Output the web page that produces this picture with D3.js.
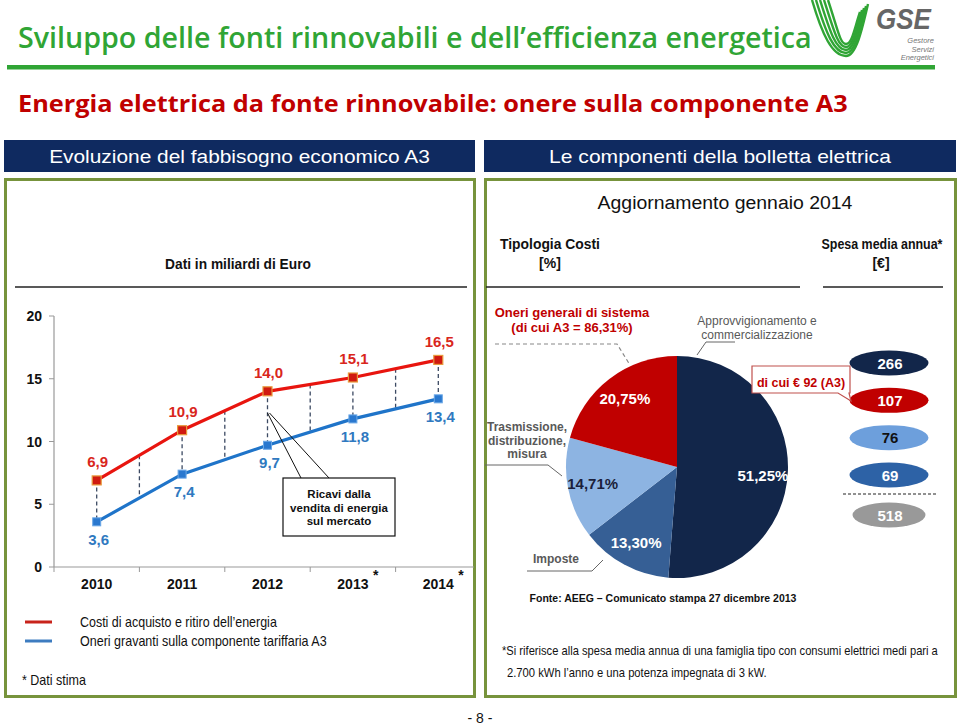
<!DOCTYPE html>
<html><head><meta charset="utf-8">
<script src="https://cdn.jsdelivr.net/npm/d3@7/dist/d3.min.js"></script>
<style>
html,body{margin:0;padding:0;background:#fff;}
svg{display:block;}
text{font-family:"Liberation Sans",Arial,sans-serif;}
.narrow{font-family:"Liberation Sans Narrow","Liberation Sans",Arial,sans-serif;}
</style></head>
<body>
<svg id="c" width="960" height="725"></svg>
<script>
// ---------- data ----------
const years = ["2010","2011","2012","2013","2014"];
const estimated = [false,false,false,true,true];
const costiAcquisto = [6.9,10.9,14.0,15.1,16.5];
const oneriA3 = [3.6,7.4,9.7,11.8,13.4];
const yTicks = [0,5,10,15,20];
const seriesNames = ["Costi di acquisto e ritiro dell’energia","Oneri gravanti sulla componente tariffaria A3"];

const pieCategories = ["Approvvigionamento e commercializzazione","Imposte","Trasmissione, distribuzione, misura","Oneri generali di sistema"];
const pieShares = [51.25,13.30,14.71,20.75];
const pieLabels = ["51,25%","13,30%","14,71%","20,75%"];
const spesaCategories = ["Approvvigionamento e commercializzazione","Oneri generali di sistema","Trasmissione, distribuzione, misura","Imposte","Totale"];
const spesaValues = [266,107,76,69,518];

const fmt = v => d3.format(".1f")(v).replace(".", ",");

const svg = d3.select("#c");

// horizontally condense a text to a target width (narrow fonts)
function fit(t, w){
  const n = t.node().getComputedTextLength();
  const s = w / n;
  const x = +t.attr("x"), y = +t.attr("y");
  t.attr("transform", `translate(${x},${y}) scale(${s},1) translate(${-x},${-y})`);
  return t;
}

// ---------- page header ----------
fit(svg.append("text").attr("x",18).attr("y",48).attr("fill","#30a535")
  .style("font-family","'Open Sans','Noto Sans',sans-serif").style("font-size","29.5px").style("font-weight","600")
  .text("Sviluppo delle fonti rinnovabili e dell’efficienza energetica"), 794);
svg.append("rect").attr("x",7).attr("y",65).attr("width",928).attr("height",4.5).attr("fill","#30a535");

// GSE logo
const logo = svg.append("g");
[0,1,2,3,4].forEach(i=>{
  logo.append("path")
    .attr("d",`M${812+i*4},0 C${822+i*4},${34-i*1} ${832+i*2},${56-i*3} ${846},${56-i*3} C${856-i*1},${56-i*3} ${862-i*2},${30} ${868-i*2},${4+i*2}`)
    .attr("fill","none").attr("stroke","#30a535").attr("stroke-width",2.4);
});
fit(logo.append("text").attr("x",876).attr("y",29).attr("fill","#666").style("font-size","30px")
  .style("font-weight","bold").style("font-style","italic").text("GSE"), 55);
["Gestore","Servizi","Energetici"].forEach((t,i)=>{
  logo.append("text").attr("x",934).attr("y",43+i*8.5).attr("text-anchor","end").attr("fill","#777").style("font-size","7.5px").style("font-style","italic").text(t);
});

fit(svg.append("text").attr("x",18).attr("y",112).attr("fill","#c00000")
  .style("font-family","'Open Sans','Noto Sans',sans-serif").style("font-size","24px").style("font-weight","700")
  .text("Energia elettrica da fonte rinnovabile: onere sulla componente A3"), 830);

// header bars
const bars = [{x:4,w:471,t:"Evoluzione del fabbisogno economico A3",tw:381},{x:484,w:472,t:"Le componenti della bolletta elettrica",tw:342}];
bars.forEach(b=>{
  svg.append("rect").attr("x",b.x).attr("y",140).attr("width",b.w).attr("height",32).attr("fill","#0f2a60");
  fit(svg.append("text").attr("class","narrow").attr("x",b.x+b.w/2).attr("y",163).attr("text-anchor","middle")
    .attr("fill","#fff").style("font-size","19px").text(b.t), b.tw);
  svg.append("rect").attr("x",b.x+1.5).attr("y",179.5).attr("width",b.w-2).attr("height",517)
    .attr("fill","none").attr("stroke","#77933c").attr("stroke-width",3);
});

// ---------- left panel: line chart ----------
fit(svg.append("text").attr("class","narrow").attr("x",238).attr("y",269).attr("text-anchor","middle")
  .style("font-size","14px").style("font-weight","bold").attr("fill","#111").text("Dati in miliardi di Euro"), 146);
svg.append("line").attr("x1",15).attr("x2",467).attr("y1",287).attr("y2",287).attr("stroke","#222").attr("stroke-width",1.5);

const x = d3.scaleBand().domain(years).range([54,481]);
const y = d3.scaleLinear().domain([0,20]).range([567,316]);
const cx = d => x(d)+x.bandwidth()/2;

const g = svg.append("g");
// y axis
g.append("line").attr("x1",54).attr("x2",54).attr("y1",y(20)).attr("y2",y(0)).attr("stroke","#999").attr("stroke-width",1.2);
yTicks.forEach(t=>{
  g.append("line").attr("x1",49).attr("x2",54).attr("y1",y(t)).attr("y2",y(t)).attr("stroke","#999");
  g.append("text").attr("x",42).attr("y",y(t)+5).attr("text-anchor","end").style("font-size","14px").style("font-weight","bold").attr("fill","#111").text(t);
});
// x axis
g.append("line").attr("x1",54).attr("x2",474).attr("y1",y(0)).attr("y2",y(0)).attr("stroke","#999").attr("stroke-width",1.2);
years.forEach((yr,i)=>{
  g.append("line").attr("x1",x(yr)).attr("x2",x(yr)).attr("y1",y(0)).attr("y2",y(0)+5).attr("stroke","#999");
  g.append("text").attr("x",cx(yr)).attr("y",589).attr("text-anchor","middle").style("font-size","14px").style("font-weight","bold").attr("fill","#111").text(yr);
  if(estimated[i]) g.append("text").attr("x",cx(yr)+20).attr("y",580).style("font-size","14px").style("font-weight","bold").attr("fill","#111").text("*");
});

// dashed connectors at categories and midpoints
const dashG = g.append("g").attr("stroke","#3c4a63").attr("stroke-width",1.3).attr("stroke-dasharray","4,3");
years.forEach((yr,i)=>{
  dashG.append("line").attr("x1",cx(yr)).attr("x2",cx(yr)).attr("y1",y(costiAcquisto[i])).attr("y2",y(oneriA3[i]));
  if(i<years.length-1){
    const mx=(cx(yr)+cx(years[i+1]))/2;
    const yr1=(y(costiAcquisto[i])+y(costiAcquisto[i+1]))/2;
    const yb1=(y(oneriA3[i])+y(oneriA3[i+1]))/2;
    dashG.append("line").attr("x1",mx).attr("x2",mx).attr("y1",yr1).attr("y2",yb1);
  }
});

const line = d3.line().x((d,i)=>cx(years[i])).y(d=>y(d));
g.append("path").datum(costiAcquisto).attr("d",line).attr("fill","none").attr("stroke","#e8150f").attr("stroke-width",3.2);
g.append("path").datum(oneriA3).attr("d",line).attr("fill","none").attr("stroke","#1f74c9").attr("stroke-width",3.2);

costiAcquisto.forEach((v,i)=>{
  g.append("rect").attr("x",cx(years[i])-4.5).attr("y",y(v)-4.5).attr("width",9).attr("height",9).attr("fill","#d01a10").attr("stroke","#e89a3c").attr("stroke-width",1.2);
  g.append("text").attr("x",cx(years[i])+1).attr("y",y(v)-13).attr("text-anchor","middle").style("font-size","15px").style("font-weight","bold").attr("fill","#d9261c").text(fmt(v));
});
oneriA3.forEach((v,i)=>{
  g.append("rect").attr("x",cx(years[i])-4).attr("y",y(v)-4).attr("width",8).attr("height",8).attr("fill","#2a78cf").attr("stroke","#6aa7e6").attr("stroke-width",1);
  g.append("text").attr("x",cx(years[i])+2).attr("y",y(v)+23).attr("text-anchor","middle").style("font-size","15px").style("font-weight","bold").attr("fill","#2f79c0").text(fmt(v));
});

// callout
const callX = cx("2012");
g.append("line").attr("x1",callX).attr("y1",413).attr("x2",301).attr("y2",478).attr("stroke","#111").attr("stroke-width",1);
g.append("line").attr("x1",callX+2).attr("y1",413).attr("x2",329).attr("y2",478).attr("stroke","#111").attr("stroke-width",1);
g.append("rect").attr("x",283).attr("y",478).attr("width",112).attr("height",58).attr("fill","#fff").attr("stroke","#111").attr("stroke-width",1.2);
["Ricavi dalla","vendita di energia","sul mercato"].forEach((t,i)=>{
  g.append("text").attr("x",339).attr("y",498+i*13.5).attr("text-anchor","middle").style("font-size","11.5px").style("font-weight","bold").attr("fill","#111").text(t);
});

// legend
const legColors = ["#c8231b","#3d7cc0"];
seriesNames.forEach((n,i)=>{
  svg.append("line").attr("x1",25).attr("x2",52).attr("y1",622+i*19).attr("y2",622+i*19).attr("stroke",legColors[i]).attr("stroke-width",3);
  fit(svg.append("text").attr("class","narrow").attr("x",80).attr("y",627+i*19).style("font-size","14px").attr("fill","#111").text(n), [197,247][i]);
});
fit(svg.append("text").attr("class","narrow").attr("x",22).attr("y",685).style("font-size","14px").attr("fill","#111").text("* Dati stima"), 64);

// ---------- right panel ----------
fit(svg.append("text").attr("class","narrow").attr("x",725).attr("y",209).attr("text-anchor","middle").style("font-size","19px").attr("fill","#111")
  .text("Aggiornamento gennaio 2014"), 255);
fit(svg.append("text").attr("class","narrow").attr("x",550).attr("y",249).attr("text-anchor","middle").style("font-size","14px").style("font-weight","bold").attr("fill","#111")
  .text("Tipologia Costi"), 100);
svg.append("text").attr("class","narrow").attr("x",550).attr("y",268).attr("text-anchor","middle").style("font-size","14px").style("font-weight","bold").attr("fill","#111").text("[%]");
fit(svg.append("text").attr("class","narrow").attr("x",882).attr("y",249).attr("text-anchor","middle").style("font-size","14px").style("font-weight","bold").attr("fill","#111")
  .text("Spesa media annua*"), 121);
svg.append("text").attr("class","narrow").attr("x",881).attr("y",268).attr("text-anchor","middle").style("font-size","14px").style("font-weight","bold").attr("fill","#111").text("[€]");
svg.append("line").attr("x1",486).attr("x2",800).attr("y1",287).attr("y2",287).attr("stroke","#222").attr("stroke-width",1.5);
svg.append("line").attr("x1",823).attr("x2",943).attr("y1",287).attr("y2",287).attr("stroke","#222").attr("stroke-width",1.5);

// pie
const pieColors = ["#12264a","#365f95","#8db4e2","#c00000"];
const pc = {x:677,y:467}, R=111;
const pie = d3.pie().sort(null).value(d=>d)(pieShares);
const arc = d3.arc().innerRadius(0).outerRadius(R);
const lblArc = d3.arc().innerRadius(86).outerRadius(86);
const pg = svg.append("g").attr("transform",`translate(${pc.x},${pc.y})`);
pg.selectAll("path").data(pie).join("path").attr("d",arc).attr("fill",(d,i)=>pieColors[i]);
const lblColors = ["#fff","#fff","#1b1f3a","#fff"];
const lblShift = [[0,6],[0,0],[0,0],[0,0]];
pg.selectAll("text").data(pie).join("text")
  .attr("x",(d,i)=>lblArc.centroid(d)[0]+lblShift[i][0])
  .attr("y",(d,i)=>lblArc.centroid(d)[1]+5+lblShift[i][1])
  .attr("text-anchor","middle").style("font-size","15px").style("font-weight","bold")
  .attr("fill",(d,i)=>lblColors[i]).text((d,i)=>pieLabels[i]);

// outer pie annotations
const ann = svg.append("g");
ann.append("text").attr("x",572).attr("y",317).attr("text-anchor","middle").style("font-size","13px").style("font-weight","bold").attr("fill","#c00000").text("Oneri generali di sistema");
ann.append("text").attr("x",572).attr("y",332).attr("text-anchor","middle").style("font-size","13px").style("font-weight","bold").attr("fill","#c00000").text("(di cui A3 = 86,31%)");
ann.append("path").attr("d","M495,344 L617,344 L630,365").attr("fill","none").attr("stroke","#888").attr("stroke-width",1.2).attr("stroke-dasharray","4,3");

ann.append("text").attr("x",757).attr("y",325).attr("text-anchor","middle").style("font-size","12px").attr("fill","#595959").text("Approvvigionamento e");
ann.append("text").attr("x",757).attr("y",339).attr("text-anchor","middle").style("font-size","12px").attr("fill","#595959").text("commercializzazione");
ann.append("path").attr("d","M697,355 L706,342 L735,342").attr("fill","none").attr("stroke","#666").attr("stroke-width",1);

["Trasmissione,","distribuzione,","misura"].forEach((t,i)=>{
  ann.append("text").attr("x",527).attr("y",431+i*13.5).attr("text-anchor","middle").style("font-size","12px").style("font-weight","bold").attr("fill","#595959").text(t);
});
ann.append("path").attr("d","M485,465 L548,465 L562,476").attr("fill","none").attr("stroke","#666").attr("stroke-width",1);

ann.append("text").attr("x",556).attr("y",563).attr("text-anchor","middle").style("font-size","12px").style("font-weight","bold").attr("fill","#595959").text("Imposte");
ann.append("path").attr("d","M527,571 L592,571 L603,560").attr("fill","none").attr("stroke","#666").attr("stroke-width",1);

// ellipses
const elColors = ["#12264a","#c00000","#6d9fdc","#2d62a6","#999999"];
const elText = ["#fff","#fff","#111","#fff","#fff"];
const ey = d3.scalePoint().domain(spesaCategories.slice(0,4)).range([363,475]);
const eg = svg.append("g");
spesaValues.forEach((v,i)=>{
  const cy = i<4 ? ey(spesaCategories[i]) : 515;
  eg.append("ellipse").attr("cx",889).attr("cy",cy).attr("rx",i<4?39.5:36.5).attr("ry",12.5).attr("fill",elColors[i]);
  eg.append("text").attr("x",890).attr("y",cy+5.5).attr("text-anchor","middle").style("font-size","15px").style("font-weight","bold").attr("fill",elText[i]).text(v);
});
eg.append("line").attr("x1",843).attr("x2",937).attr("y1",494).attr("y2",494).attr("stroke","#222").attr("stroke-width",1).attr("stroke-dasharray","3,2");

// "di cui" callout
eg.append("path").attr("d","M752,366 L850,366 L850,393 L849,393 L851,401 L838,393 L752,393 Z")
  .attr("fill","#fff").attr("stroke","#c0504d").attr("stroke-width",1.2);
eg.append("text").attr("x",801).attr("y",387).attr("text-anchor","middle").style("font-size","12.5px").style("font-weight","bold").attr("fill","#c00000").text("di cui € 92 (A3)");

svg.append("text").attr("x",663).attr("y",602).attr("text-anchor","middle").style("font-size","10.5px").style("font-weight","bold").attr("fill","#111").text("Fonte: AEEG – Comunicato stampa 27 dicembre 2013");

fit(svg.append("text").attr("class","narrow").attr("x",502).attr("y",655).style("font-size","13px").attr("fill","#111")
  .text("*Si riferisce alla spesa media annua di una famiglia tipo con consumi elettrici medi pari a"), 436);
fit(svg.append("text").attr("class","narrow").attr("x",507).attr("y",677).style("font-size","13px").attr("fill","#111")
  .text("2.700 kWh l’anno e una potenza impegnata di 3 kW."), 260);

svg.append("text").attr("x",480).attr("y",723).attr("text-anchor","middle").style("font-size","14px").attr("fill","#111").text("- 8 -");
</script>
</body></html>
